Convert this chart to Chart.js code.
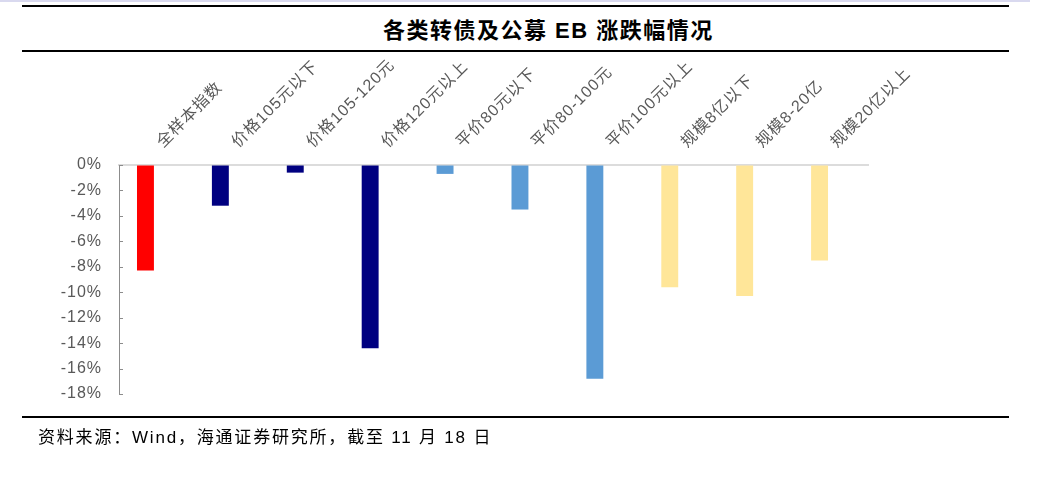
<!DOCTYPE html>
<html>
<head>
<meta charset="utf-8">
<script src="https://cdn.jsdelivr.net/npm/chart.js@4.4.1/dist/chart.umd.min.js"></script>
<style>
  html, body { margin: 0; padding: 0; background: #fff; }
  #page { position: relative; width: 1039px; height: 485px; overflow: hidden; }
  .rule { position: absolute; left: 22px; width: 987px; height: 2px; background: #000; }
  #topline { position: absolute; left: 0; top: 0; width: 1030px; height: 2px; background: #d9d9ef; }
  #title {
    position: absolute; left: 383px; top: 12px; line-height: 22px; letter-spacing: 1.5px;
    font: bold 22px "Liberation Sans", "Noto Sans CJK SC", sans-serif; color: #000; white-space: nowrap;
  }
  #source {
    position: absolute; left: 38px; top: 423px; line-height: 17px; letter-spacing: 1.8px;
    font: 17px "Liberation Sans", "Noto Sans CJK SC", sans-serif; color: #000; white-space: nowrap;
  }
  #wrap { position: absolute; left: 0; top: 0; width: 1039px; height: 485px; }
</style>
</head>
<body>
<div id="page">
  <div id="topline"></div>
  <div class="rule" style="top:5px"></div>
  <div id="title">各类转债及公募 EB 涨跌幅情况</div>
  <div class="rule" style="top:50px"></div>
  <div id="wrap"><canvas id="chart"></canvas></div>
  <div class="rule" style="top:416px"></div>
  <div id="source">资料来源：Wind，海通证券研究所，截至 11 月 18 日</div>
</div>
<script>
const categories = [
  '全样本指数', '价格105元以下', '价格105-120元', '价格120元以上', '平价80元以下',
  '平价80-100元', '平价100元以上', '规模8亿以下', '规模8-20亿', '规模20亿以上',
]
// 涨跌幅, %
const changes = [-8.3, -3.2, -0.6, -14.4, -0.7, -3.5, -16.8, -9.6, -10.3, -7.5]
// empty second series, keeps the bars left of the category centre like the source sheet
const spacer = categories.map(() => null)
const barColors = [
  '#ff0000', '#000080', '#000080', '#000080', '#5b9bd5',
  '#5b9bd5', '#5b9bd5', '#ffe699', '#ffe699', '#ffe699',
]
const yMin = -18
const yMax = 0
const yStep = 2

const FONT = '"Liberation Sans", "Noto Sans CJK SC", sans-serif'
const GREY_TEXT = '#595959'

// the source chart's axis text is a little spaced out
const spacedText = {
  id: 'spacedText',
  beforeDraw(chart) { chart.ctx.letterSpacing = '1px' },
  afterDraw(chart) { chart.ctx.letterSpacing = '0px' },
}

// small inward tick marks on the value axis
const innerTicks = {
  id: 'innerTicks',
  afterDraw(chart) {
    const { ctx } = chart
    const y = chart.scales.y
    ctx.save()
    ctx.strokeStyle = '#8c8c8c'
    ctx.lineWidth = 1
    for (let i = 0; i < y.ticks.length; i++) {
      const py = Math.round(y.getPixelForTick(i)) + 0.5
      ctx.beginPath()
      ctx.moveTo(y.right, py)
      ctx.lineTo(y.right + 4, py)
      ctx.stroke()
    }
    ctx.restore()
  },
}

new Chart(document.getElementById('chart'), {
  type: 'bar',
  data: {
    labels: categories,
    datasets: [
      {
        label: '涨跌幅',
        data: changes,
        backgroundColor: barColors,
        borderWidth: 0,
        categoryPercentage: 0.587,
        barPercentage: 0.77,
      },
      {
        label: '',
        data: spacer,
        backgroundColor: 'rgba(0,0,0,0)',
        categoryPercentage: 0.587,
        barPercentage: 0.77,
      },
    ],
  },
  options: {
    responsive: true,
    maintainAspectRatio: false,
    animation: false,
    layout: { padding: { top: 55, left: 0, right: 171, bottom: 91 } },
    plugins: {
      legend: { display: false },
      tooltip: { enabled: false },
      title: { display: false },
    },
    scales: {
      x: {
        position: 'top',
        z: 1,
        afterFit(scale) { scale.height = 110 },
        grid: { display: false, drawTicks: false },
        border: { display: true, color: 'rgba(205,205,205,0.7)', width: 2 },
        ticks: {
          autoSkip: false,
          minRotation: 45,
          maxRotation: 45,
          padding: 13,
          labelOffset: 17,
          color: GREY_TEXT,
          font: { family: FONT, size: 16 },
        },
      },
      y: {
        min: yMin,
        max: yMax,
        afterFit(scale) { scale.width = 119 },
        grid: { drawOnChartArea: false, drawTicks: false },
        border: { display: true, color: '#8c8c8c', width: 1 },
        ticks: {
          stepSize: yStep,
          padding: 17,
          color: GREY_TEXT,
          font: { family: FONT, size: 16 },
          callback: (value) => `${value}%`,
        },
      },
    },
  },
  plugins: [spacedText, innerTicks],
})
</script>
</body>
</html>
